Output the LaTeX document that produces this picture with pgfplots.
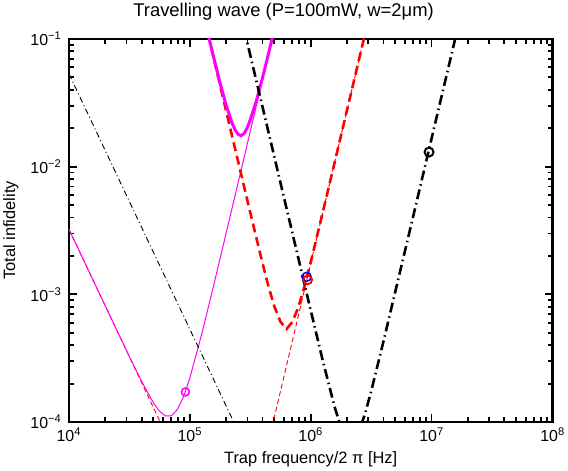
\documentclass[border=0pt]{standalone}
\usepackage{fontspec}
\setmainfont{Liberation Sans}
\usepackage{pgfplots}
\pgfplotsset{compat=1.18}
\definecolor{Mag}{RGB}{255,0,255}
\definecolor{Red}{RGB}{255,0,0}
\definecolor{Blu}{RGB}{0,0,255}

\begin{document}
\begin{tikzpicture}
\begin{axis}[
    xmode=log, ymode=log,
    scale only axis,
    width=486pt, height=385pt,
    xmin=1e4, xmax=1e8, ymin=1e-4, ymax=1e-1,
    xtick={1e4,1e5,1e6,1e7,1e8},
    xticklabels={10\textsuperscript{4},10\textsuperscript{5},10\textsuperscript{6},10\textsuperscript{7},10\textsuperscript{8}},
    ytick={1e-4,1e-3,1e-2,1e-1},
    yticklabels={10\textsuperscript{−4},10\textsuperscript{−3},10\textsuperscript{−2},10\textsuperscript{−1}},
    tick align=inside,
    major tick length=8pt, minor tick length=5pt,
    axis line style={line width=2.4pt},
    every tick/.style={black, line width=1.8pt},
    tick label style={font=\fontsize{16}{18}\selectfont},
    yticklabel style={xshift=-4pt},
    xticklabel style={yshift=-2pt},
    label style={font=\fontsize{16.5}{18}\selectfont},
    ylabel shift=5pt,
    xlabel shift=3pt,
    title style={font=\fontsize{18.5}{20}\selectfont, at={(0.444,1)}, anchor=south, yshift=9pt},
    title={Travelling wave (P=100mW, w=2μm)},
    xlabel={Trap frequency/2 π [Hz]},
    ylabel={Total infidelity},
]
% thin components
\addplot[Red, line width=0.9pt, dash pattern=on 5pt off 3pt] coordinates {(1e4,3.25e-3) (63096,8.17e-5)};
\addplot[Red, line width=0.9pt, dash pattern=on 5pt off 3pt] coordinates {(478630,9.12e-5) (2884032,0.1202)};
% thin total (magenta)
\addplot[Mag, line width=1pt] coordinates {
 (1e4,3.25e-3) (15849,1.294e-3) (25119,5.16e-4) (31623,3.27e-4) (39811,2.10e-4)
 (50119,1.41e-4) (56234,1.216e-4) (63096,1.115e-4) (70795,1.121e-4) (79433,1.263e-4)
 (89125,1.595e-4) (1e5,2.205e-4) (125893,4.93e-4) (158489,1.199e-3) (199526,2.99e-3)
 (251189,7.49e-3) (316228,1.88e-2) (398107,4.72e-2) (501187,0.1186)};
% thin black dash-dot
\addplot[black, line width=0.9pt, dash pattern=on 6pt off 3pt on 1pt off 3pt] coordinates {(1e4,5.35e-2) (251189,8.47e-5)};
% thick red dashed
\addplot[Red, line width=2.6pt, dash pattern=on 9pt off 5pt] coordinates {
 (141254,0.1096) (158489,6.92e-2) (199526,2.754e-2) (251189,1.097e-2) (316228,4.39e-3)
 (398107,1.78e-3) (446684,1.165e-3) (501187,8.02e-4) (562341,6.11e-4) (630957,5.35e-4)
 (707946,6.11e-4) (794328,8.02e-4) (891251,1.165e-3) (1e6,1.78e-3) (1258925,4.39e-3)
 (1584893,1.096e-2) (1995262,2.754e-2) (2511886,6.92e-2) (2818383,0.1096)};
% thick magenta
\addplot[Mag, line width=3pt] coordinates {
 (141254,0.1103) (158489,7.04e-2) (177828,4.55e-2) (199526,3.05e-2) (223872,2.19e-2)
 (237137,1.94e-2) (251189,1.79e-2) (266073,1.75e-2) (281838,1.82e-2) (298538,2.01e-2)
 (316228,2.317e-2) (354813,3.255e-2) (398107,4.89e-2) (446684,7.59e-2) (501187,0.1193)};
% thick black dash-dot
\addplot[black, line width=2.6pt, dash pattern=on 10pt off 4pt on 1.5pt off 4pt] coordinates {
 (281838,0.1189) (398107,2.985e-2) (630957,4.73e-3) (1e6,7.52e-4) (1258925,3.03e-4)
 (1584893,1.294e-4) (1778279,9.16e-5) (2137962,7.06e-5) (2511886,8.48e-5) (2818383,1.166e-4)
 (3162278,1.735e-4) (3981072,4.2e-4) (6309573,2.63e-3) (1e7,1.66e-2) (15848932,0.1047)};
% markers
\addplot[only marks, mark=o, mark size=4pt, Mag, mark options={line width=1.6pt}] coordinates {(92000,1.72e-4)};
\addplot[only marks, mark=o, mark size=4.5pt, Blu, mark options={line width=1.6pt}] coordinates {(926000,1.37e-3)};
\addplot[only marks, mark=o, mark size=4.5pt, Red, mark options={line width=1.8pt}] coordinates {(944000,1.30e-3)};
\addplot[only marks, mark=o, mark size=4.5pt, black, mark options={line width=2pt}] coordinates {(9530000,1.30e-2)};
\end{axis}
\end{tikzpicture}
\end{document}
